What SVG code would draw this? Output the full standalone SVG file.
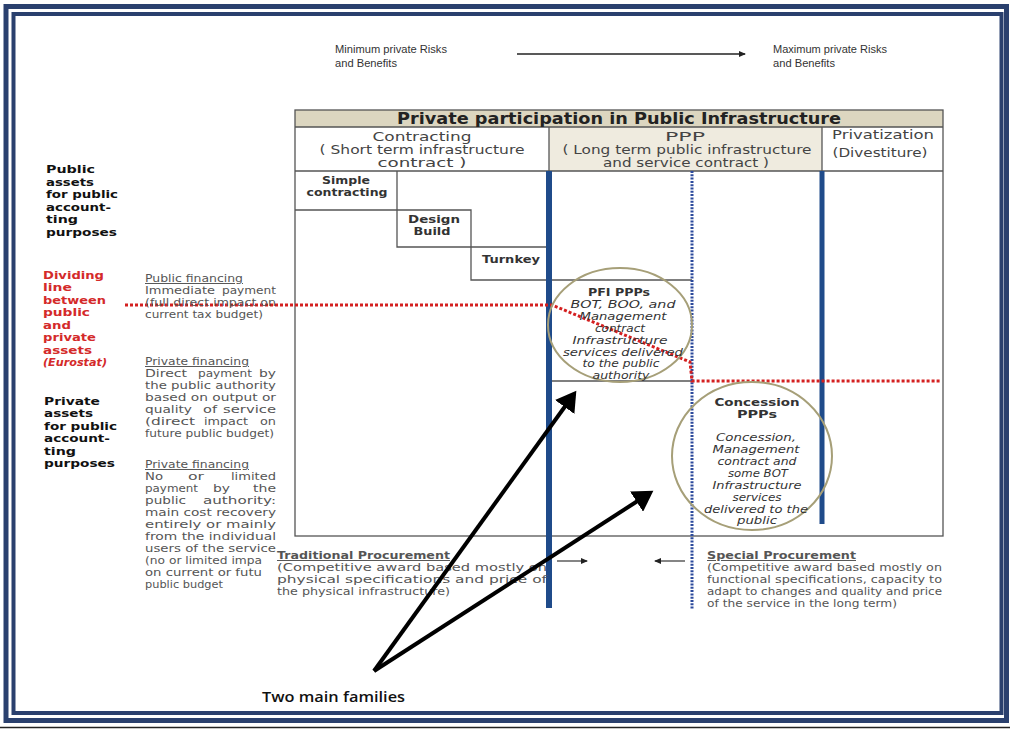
<svg xmlns="http://www.w3.org/2000/svg" width="1010" height="729" viewBox="0 0 1010 729">
<style>
.frame{fill:none;stroke:#2a406e}
.tl{stroke:#555;stroke-width:1.3;fill:none}
.hd{font-family:"DejaVu Sans",Verdana,sans-serif;font-weight:bold;fill:#222}
.col{font-family:"DejaVu Sans",Verdana,sans-serif;font-size:12.5px;fill:#444;text-anchor:middle}
.box{font-family:"DejaVu Sans",Verdana,sans-serif;font-size:10.5px;font-weight:bold;fill:#333;text-anchor:middle}
.it{font-family:"DejaVu Sans",Verdana,sans-serif;font-size:10.3px;font-style:italic;fill:#333;text-anchor:middle}
.lab{font-family:"DejaVu Sans",Verdana,sans-serif;font-size:11px;font-weight:bold;fill:#111}
.red{fill:#d42a2a}
.sm{font-family:"DejaVu Sans",Verdana,sans-serif;font-size:9.8px;fill:#555}
.ul{text-decoration:underline}
.top{font-family:"Liberation Sans",Arial,sans-serif;font-size:10.5px;fill:#333}
.circ{fill:none;stroke:#a69f78;stroke-width:2}
</style>
<defs>
<marker id="big" markerWidth="6" markerHeight="6" refX="4" refY="3" orient="auto" markerUnits="strokeWidth"><path d="M0,0 L5,3 L0,6 Z" fill="#000"/></marker>
<marker id="sml" markerWidth="8" markerHeight="8" refX="6" refY="4" orient="auto" markerUnits="userSpaceOnUse"><path d="M0,1 L7,4 L0,7 Z" fill="#222"/></marker>
</defs>
<rect width="1010" height="729" fill="#fff"/>
<g id="frame">
<rect class="frame" x="6" y="6.5" width="1000.5" height="714" stroke-width="5"/>
<rect class="frame" x="13.5" y="14" width="988" height="699" stroke-width="4"/>
<line x1="0" y1="727.5" x2="1010" y2="727.5" stroke="#222" stroke-width="1.5"/>
</g>
<g id="risk-scale">
<text class="top" x="335" y="53" textLength="112" lengthAdjust="spacingAndGlyphs">Minimum private Risks</text>
<text class="top" x="335" y="67" textLength="62" lengthAdjust="spacingAndGlyphs">and Benefits</text>
<text class="top" x="773" y="53" textLength="114" lengthAdjust="spacingAndGlyphs">Maximum private Risks</text>
<text class="top" x="773" y="67" textLength="62" lengthAdjust="spacingAndGlyphs">and Benefits</text>
</g>
<g id="table">
<rect x="295" y="110" width="648" height="17" fill="#dcd6c0"/>
<rect x="549" y="127" width="273" height="44" fill="#efebdf"/>
<rect class="tl" x="295" y="110" width="648" height="426"/>
<line class="tl" x1="295" y1="127" x2="943" y2="127"/>
<line class="tl" x1="295" y1="171" x2="943" y2="171"/>
<line class="tl" x1="549" y1="127" x2="549" y2="171"/>
<line class="tl" x1="822" y1="127" x2="822" y2="171"/>
<text class="hd" x="619" y="124" font-size="15" text-anchor="middle" textLength="444" lengthAdjust="spacingAndGlyphs">Private participation in Public Infrastructure</text>
<text class="col" x="422" y="141" textLength="99" lengthAdjust="spacingAndGlyphs">Contracting</text>
<text class="col" x="422" y="154" textLength="205" lengthAdjust="spacingAndGlyphs">( Short term infrastructure</text>
<text class="col" x="422" y="167" textLength="89" lengthAdjust="spacingAndGlyphs">contract )</text>
<text class="col" x="685" y="141" textLength="40" lengthAdjust="spacingAndGlyphs">PPP</text>
<text class="col" x="687" y="154" textLength="249" lengthAdjust="spacingAndGlyphs">( Long term public infrastructure</text>
<text class="col" x="686" y="167" textLength="166" lengthAdjust="spacingAndGlyphs">and service contract )</text>
<text class="col" x="883" y="139" textLength="102" lengthAdjust="spacingAndGlyphs">Privatization</text>
<text class="col" x="880" y="157" textLength="95" lengthAdjust="spacingAndGlyphs">(Divestiture)</text>
</g>
<g id="staircase">
<path class="tl" d="M397,171 V247 H549 M295,210 H471 V280 H692 M549,381 H692"/>
<text class="box" x="346" y="184" textLength="48" lengthAdjust="spacingAndGlyphs">Simple</text>
<text class="box" x="347" y="196" textLength="81" lengthAdjust="spacingAndGlyphs">contracting</text>
<text class="box" x="434" y="223" textLength="52" lengthAdjust="spacingAndGlyphs">Design</text>
<text class="box" x="432" y="235" textLength="37" lengthAdjust="spacingAndGlyphs">Build</text>
<text class="box" x="511" y="263" textLength="58" lengthAdjust="spacingAndGlyphs">Turnkey</text>
</g>
<g id="dividers">
<line x1="549" y1="171" x2="549" y2="608" stroke="#1f4b8a" stroke-width="6"/>
<line x1="822" y1="171" x2="822" y2="524" stroke="#1f4b8a" stroke-width="5"/>
<line x1="692" y1="171" x2="692" y2="610" stroke="#2c4a9c" stroke-width="3" stroke-dasharray="2 1.3"/>
<polyline points="125,305 552,305 690,362 692,381 940,381" fill="none" stroke="#d42020" stroke-width="3" stroke-dasharray="3 2"/>
</g>
<g id="pfi">
<ellipse class="circ" cx="620" cy="325" rx="72" ry="57"/>
<text class="box" x="619" y="296" textLength="62" lengthAdjust="spacingAndGlyphs">PFI PPPs</text>
<text class="it" x="623" y="308" textLength="105" lengthAdjust="spacingAndGlyphs">BOT, BOO, and</text>
<text class="it" x="623" y="320" textLength="87" lengthAdjust="spacingAndGlyphs">Management</text>
<text class="it" x="620" y="332" textLength="50" lengthAdjust="spacingAndGlyphs">contract</text>
<text class="it" x="620" y="344" textLength="95" lengthAdjust="spacingAndGlyphs">Infrastructure</text>
<text class="it" x="623" y="356" textLength="120" lengthAdjust="spacingAndGlyphs">services delivered</text>
<text class="it" x="621" y="367" textLength="77" lengthAdjust="spacingAndGlyphs">to the public</text>
<text class="it" x="621" y="379" textLength="57" lengthAdjust="spacingAndGlyphs">authority</text>
</g>
<g id="concession">
<ellipse class="circ" cx="752" cy="456" rx="80" ry="74"/>
<text class="box" x="757" y="406" textLength="85" lengthAdjust="spacingAndGlyphs">Concession</text>
<text class="box" x="757" y="418" textLength="40" lengthAdjust="spacingAndGlyphs">PPPs</text>
<text class="it" x="756" y="441" textLength="80" lengthAdjust="spacingAndGlyphs">Concession,</text>
<text class="it" x="756" y="453" textLength="87" lengthAdjust="spacingAndGlyphs">Management</text>
<text class="it" x="757" y="465" textLength="79" lengthAdjust="spacingAndGlyphs">contract and</text>
<text class="it" x="758" y="477" textLength="60" lengthAdjust="spacingAndGlyphs">some BOT</text>
<text class="it" x="757" y="489" textLength="89" lengthAdjust="spacingAndGlyphs">Infrastructure</text>
<text class="it" x="757" y="501" textLength="49" lengthAdjust="spacingAndGlyphs">services</text>
<text class="it" x="756" y="513" textLength="104" lengthAdjust="spacingAndGlyphs">delivered to the</text>
<text class="it" x="757" y="524" textLength="40" lengthAdjust="spacingAndGlyphs">public</text>
</g>
<g id="left-labels">
<text class="lab" x="46" y="173" textLength="49" lengthAdjust="spacingAndGlyphs">Public</text>
<text class="lab" x="46" y="186" textLength="48" lengthAdjust="spacingAndGlyphs">assets</text>
<text class="lab" x="46" y="198" textLength="72" lengthAdjust="spacingAndGlyphs">for public</text>
<text class="lab" x="46" y="211" textLength="65" lengthAdjust="spacingAndGlyphs">account-</text>
<text class="lab" x="46" y="223" textLength="32" lengthAdjust="spacingAndGlyphs">ting</text>
<text class="lab" x="46" y="236" textLength="71" lengthAdjust="spacingAndGlyphs">purposes</text>
<text class="lab red" x="43" y="279" textLength="61" lengthAdjust="spacingAndGlyphs">Dividing</text>
<text class="lab red" x="43" y="291" textLength="29" lengthAdjust="spacingAndGlyphs">line</text>
<text class="lab red" x="43" y="304" textLength="63" lengthAdjust="spacingAndGlyphs">between</text>
<text class="lab red" x="43" y="316" textLength="47" lengthAdjust="spacingAndGlyphs">public</text>
<text class="lab red" x="43" y="329" textLength="28" lengthAdjust="spacingAndGlyphs">and</text>
<text class="lab red" x="43" y="341" textLength="53" lengthAdjust="spacingAndGlyphs">private</text>
<text class="lab red" x="43" y="354" textLength="49" lengthAdjust="spacingAndGlyphs">assets</text>
<text class="lab red" x="43" y="366" font-style="italic" textLength="64" lengthAdjust="spacingAndGlyphs">(Eurostat)</text>
<text class="lab" x="44" y="405" textLength="56" lengthAdjust="spacingAndGlyphs">Private</text>
<text class="lab" x="44" y="417" textLength="49" lengthAdjust="spacingAndGlyphs">assets</text>
<text class="lab" x="44" y="430" textLength="73" lengthAdjust="spacingAndGlyphs">for public</text>
<text class="lab" x="44" y="442" textLength="66" lengthAdjust="spacingAndGlyphs">account-</text>
<text class="lab" x="44" y="455" textLength="32" lengthAdjust="spacingAndGlyphs">ting</text>
<text class="lab" x="44" y="467" textLength="71" lengthAdjust="spacingAndGlyphs">purposes</text>
</g>
<g id="financing">
<text class="sm ul" x="145" y="282" textLength="98" lengthAdjust="spacingAndGlyphs">Public financing</text>
<text class="sm" x="145" y="294" textLength="70" lengthAdjust="spacingAndGlyphs">Immediate</text>
<text class="sm" x="222" y="294" textLength="54" lengthAdjust="spacingAndGlyphs">payment</text>
<text class="sm" x="145" y="306" textLength="131" lengthAdjust="spacingAndGlyphs">(full direct impact on</text>
<text class="sm" x="145" y="318" textLength="118" lengthAdjust="spacingAndGlyphs">current tax budget)</text>
<text class="sm ul" x="145" y="365" textLength="104" lengthAdjust="spacingAndGlyphs">Private financing</text>
<text class="sm" x="145" y="377" textLength="42" lengthAdjust="spacingAndGlyphs">Direct</text>
<text class="sm" x="198" y="377" textLength="54" lengthAdjust="spacingAndGlyphs">payment</text>
<text class="sm" x="259" y="377" textLength="17" lengthAdjust="spacingAndGlyphs">by</text>
<text class="sm" x="145" y="389" textLength="131" lengthAdjust="spacingAndGlyphs">the public authority</text>
<text class="sm" x="145" y="401" textLength="131" lengthAdjust="spacingAndGlyphs">based on output or</text>
<text class="sm" x="145" y="413" textLength="47" lengthAdjust="spacingAndGlyphs">quality</text>
<text class="sm" x="203" y="413" textLength="14" lengthAdjust="spacingAndGlyphs">of</text>
<text class="sm" x="223" y="413" textLength="53" lengthAdjust="spacingAndGlyphs">service</text>
<text class="sm" x="145" y="425" textLength="50" lengthAdjust="spacingAndGlyphs">(direct</text>
<text class="sm" x="204" y="425" textLength="44" lengthAdjust="spacingAndGlyphs">impact</text>
<text class="sm" x="260" y="425" textLength="16" lengthAdjust="spacingAndGlyphs">on</text>
<text class="sm" x="145" y="437" textLength="129" lengthAdjust="spacingAndGlyphs">future public budget)</text>
<text class="sm ul" x="145" y="468" textLength="104" lengthAdjust="spacingAndGlyphs">Private financing</text>
<text class="sm" x="145" y="480" textLength="18" lengthAdjust="spacingAndGlyphs">No</text>
<text class="sm" x="188" y="480" textLength="16" lengthAdjust="spacingAndGlyphs">or</text>
<text class="sm" x="231" y="480" textLength="45" lengthAdjust="spacingAndGlyphs">limited</text>
<text class="sm" x="145" y="492" textLength="53" lengthAdjust="spacingAndGlyphs">payment</text>
<text class="sm" x="213" y="492" textLength="17" lengthAdjust="spacingAndGlyphs">by</text>
<text class="sm" x="253" y="492" textLength="23" lengthAdjust="spacingAndGlyphs">the</text>
<text class="sm" x="145" y="504" textLength="41" lengthAdjust="spacingAndGlyphs">public</text>
<text class="sm" x="203" y="504" textLength="73" lengthAdjust="spacingAndGlyphs">authority:</text>
<text class="sm" x="145" y="516" textLength="131" lengthAdjust="spacingAndGlyphs">main cost recovery</text>
<text class="sm" x="145" y="528" textLength="131" lengthAdjust="spacingAndGlyphs">entirely or mainly</text>
<text class="sm" x="145" y="540" textLength="131" lengthAdjust="spacingAndGlyphs">from the individual</text>
<text class="sm" x="145" y="552" textLength="131" lengthAdjust="spacingAndGlyphs">users of the service</text>
<text class="sm" x="145" y="564" textLength="117" lengthAdjust="spacingAndGlyphs">(no or limited impa</text>
<text class="sm" x="145" y="576" textLength="117" lengthAdjust="spacingAndGlyphs">on current or futu</text>
<text class="sm" x="145" y="588" textLength="78" lengthAdjust="spacingAndGlyphs">public budget</text>
</g>
<g id="procurement">
<text class="sm ul" x="277" y="559" font-weight="bold" fill="#333" textLength="173" lengthAdjust="spacingAndGlyphs">Traditional Procurement</text>
<text class="sm" x="277" y="571" textLength="270" lengthAdjust="spacingAndGlyphs">(Competitive award based mostly on</text>
<text class="sm" x="277" y="583" textLength="270" lengthAdjust="spacingAndGlyphs">physical specifications and price of</text>
<text class="sm" x="277" y="595" textLength="173" lengthAdjust="spacingAndGlyphs">the physical infrastructure)</text>
<text class="sm ul" x="707" y="559" font-weight="bold" fill="#333" textLength="149" lengthAdjust="spacingAndGlyphs">Special Procurement</text>
<text class="sm" x="707" y="571" textLength="235" lengthAdjust="spacingAndGlyphs">(Competitive award based mostly on</text>
<text class="sm" x="707" y="583" textLength="235" lengthAdjust="spacingAndGlyphs">functional specifications, capacity to</text>
<text class="sm" x="707" y="595" textLength="235" lengthAdjust="spacingAndGlyphs">adapt to changes and quality and price</text>
<text class="sm" x="707" y="607" textLength="190" lengthAdjust="spacingAndGlyphs">of the service in the long term)</text>
</g>
<g id="families">
<text x="262" y="702" font-family="'Open Sans',sans-serif" font-size="14" font-weight="600" fill="#111" textLength="143" lengthAdjust="spacingAndGlyphs">Two main families</text>
</g>
<g id="connectors">
<line x1="517" y1="54" x2="745" y2="54" stroke="#222" stroke-width="1.5" marker-end="url(#sml)"/>
<line x1="557" y1="561" x2="587" y2="561" stroke="#333" stroke-width="1.2" marker-end="url(#sml)"/>
<line x1="685" y1="561" x2="655" y2="561" stroke="#333" stroke-width="1.2" marker-end="url(#sml)"/>
<line x1="374" y1="671" x2="574" y2="394" stroke="#000" stroke-width="4" marker-end="url(#big)"/>
<line x1="374" y1="671" x2="650" y2="493" stroke="#000" stroke-width="4" marker-end="url(#big)"/>
</g>
</svg>
